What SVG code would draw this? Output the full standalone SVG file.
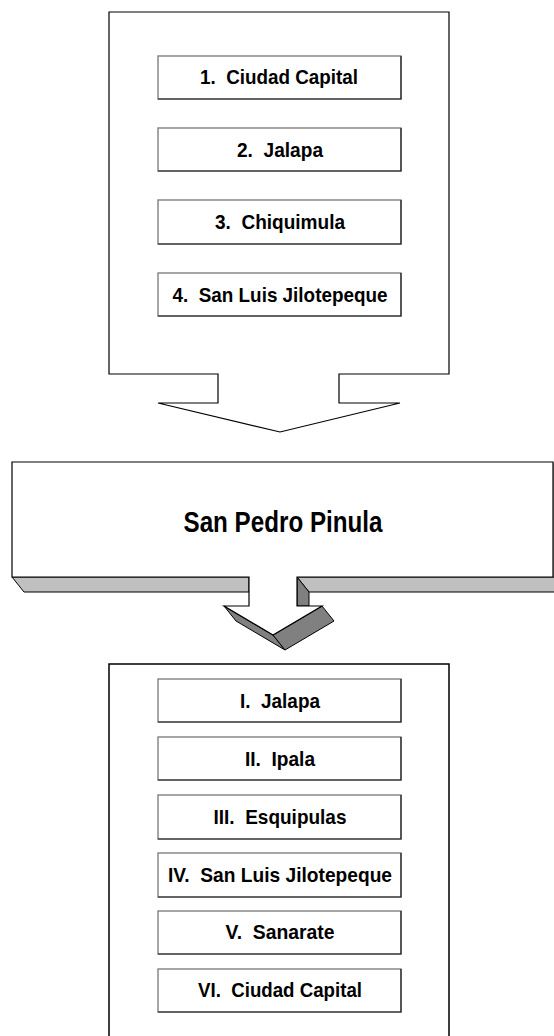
<svg xmlns="http://www.w3.org/2000/svg" width="554" height="1036" viewBox="0 0 554 1036" xml:space="preserve">
<style>
.outline{fill:#fff;stroke:#000;stroke-width:1.2}
.box{fill:#fff;stroke:#808080;stroke-width:1.4}
.edge{fill:none;stroke:#222;stroke-width:1.2}
.band{fill:#c0c0c0;stroke:#000;stroke-width:1}
.dark{fill:#808080;stroke:#000;stroke-width:1}
.lbl{font-family:"Liberation Sans",Arial,sans-serif;font-weight:bold;font-size:21px;fill:#000;text-anchor:middle;white-space:pre}
.big{font-family:"Liberation Sans",Arial,sans-serif;font-weight:bold;font-size:29px;fill:#000;text-anchor:middle}
</style>
<g id="origins">
<polygon class="outline" points="109,12 449,12 449,374 339,374 339,403 400,403 280,432 158,403 218,403 218,374 109,374"/>
</g>
<g id="o1"><rect class="box" x="158" y="56" width="243" height="43"/><polyline class="edge" points="158,99 401,99 401,56"/><text class="lbl" x="279" y="84" textLength="158" lengthAdjust="spacingAndGlyphs">1.  Ciudad Capital</text></g>
<g id="o2"><rect class="box" x="158" y="128" width="243" height="43"/><polyline class="edge" points="158,171 401,171 401,128"/><text class="lbl" x="280" y="157" textLength="86" lengthAdjust="spacingAndGlyphs">2.  Jalapa</text></g>
<g id="o3"><rect class="box" x="158" y="200" width="243" height="44"/><polyline class="edge" points="158,244 401,244 401,200"/><text class="lbl" x="280" y="229" textLength="130" lengthAdjust="spacingAndGlyphs">3.  Chiquimula</text></g>
<g id="o4"><rect class="box" x="158" y="273" width="243" height="43"/><polyline class="edge" points="158,316 401,316 401,273"/><text class="lbl" x="280" y="302" textLength="215" lengthAdjust="spacingAndGlyphs">4.  San Luis Jilotepeque</text></g>

<g id="center">
<polygon class="band" points="12,577 249,577 249,592 24,592"/>
<polygon class="band" points="297,577 560,577 560,592 309,592"/>
<polygon class="dark" points="297,577 309,592 309,606 297,606"/>
<polygon class="dark" points="224,606 273,635 285,650 236,621"/>
<polygon class="dark" points="273,635 322,606 334,621 285,650"/>
<polygon class="outline" points="12,462 553,462 553,577 297,577 297,606 322,606 273,635 224,606 249,606 249,577 12,577"/>
<line x1="554" y1="463" x2="554" y2="578" stroke="#333" stroke-width="1.5"/>
<text class="big" x="283" y="532" textLength="199" lengthAdjust="spacingAndGlyphs">San Pedro Pinula</text>
</g>

<g id="destinations">
<polyline fill="none" stroke="#000" stroke-width="1.5" points="109,1040 109,664 449,664 449,1040"/>
</g>
<g id="d1"><rect class="box" x="158" y="679" width="243" height="43"/><polyline class="edge" points="158,722 401,722 401,679"/><text class="lbl" x="280" y="708" textLength="80" lengthAdjust="spacingAndGlyphs">I.  Jalapa</text></g>
<g id="d2"><rect class="box" x="158" y="737" width="243" height="43"/><polyline class="edge" points="158,780 401,780 401,737"/><text class="lbl" x="280" y="766" textLength="70" lengthAdjust="spacingAndGlyphs">II.  Ipala</text></g>
<g id="d3"><rect class="box" x="158" y="795" width="243" height="44"/><polyline class="edge" points="158,839 401,839 401,795"/><text class="lbl" x="280" y="824" textLength="133" lengthAdjust="spacingAndGlyphs">III.  Esquipulas</text></g>
<g id="d4"><rect class="box" x="158" y="853" width="243" height="44"/><polyline class="edge" points="158,897 401,897 401,853"/><text class="lbl" x="280" y="882" textLength="224" lengthAdjust="spacingAndGlyphs">IV.  San Luis Jilotepeque</text></g>
<g id="d5"><rect class="box" x="158" y="911" width="243" height="43"/><polyline class="edge" points="158,954 401,954 401,911"/><text class="lbl" x="280" y="939" textLength="109" lengthAdjust="spacingAndGlyphs">V.  Sanarate</text></g>
<g id="d6"><rect class="box" x="158" y="969" width="243" height="43"/><polyline class="edge" points="158,1012 401,1012 401,969"/><text class="lbl" x="280" y="997" textLength="164" lengthAdjust="spacingAndGlyphs">VI.  Ciudad Capital</text></g>
<g id="connectors"/>
</svg>
